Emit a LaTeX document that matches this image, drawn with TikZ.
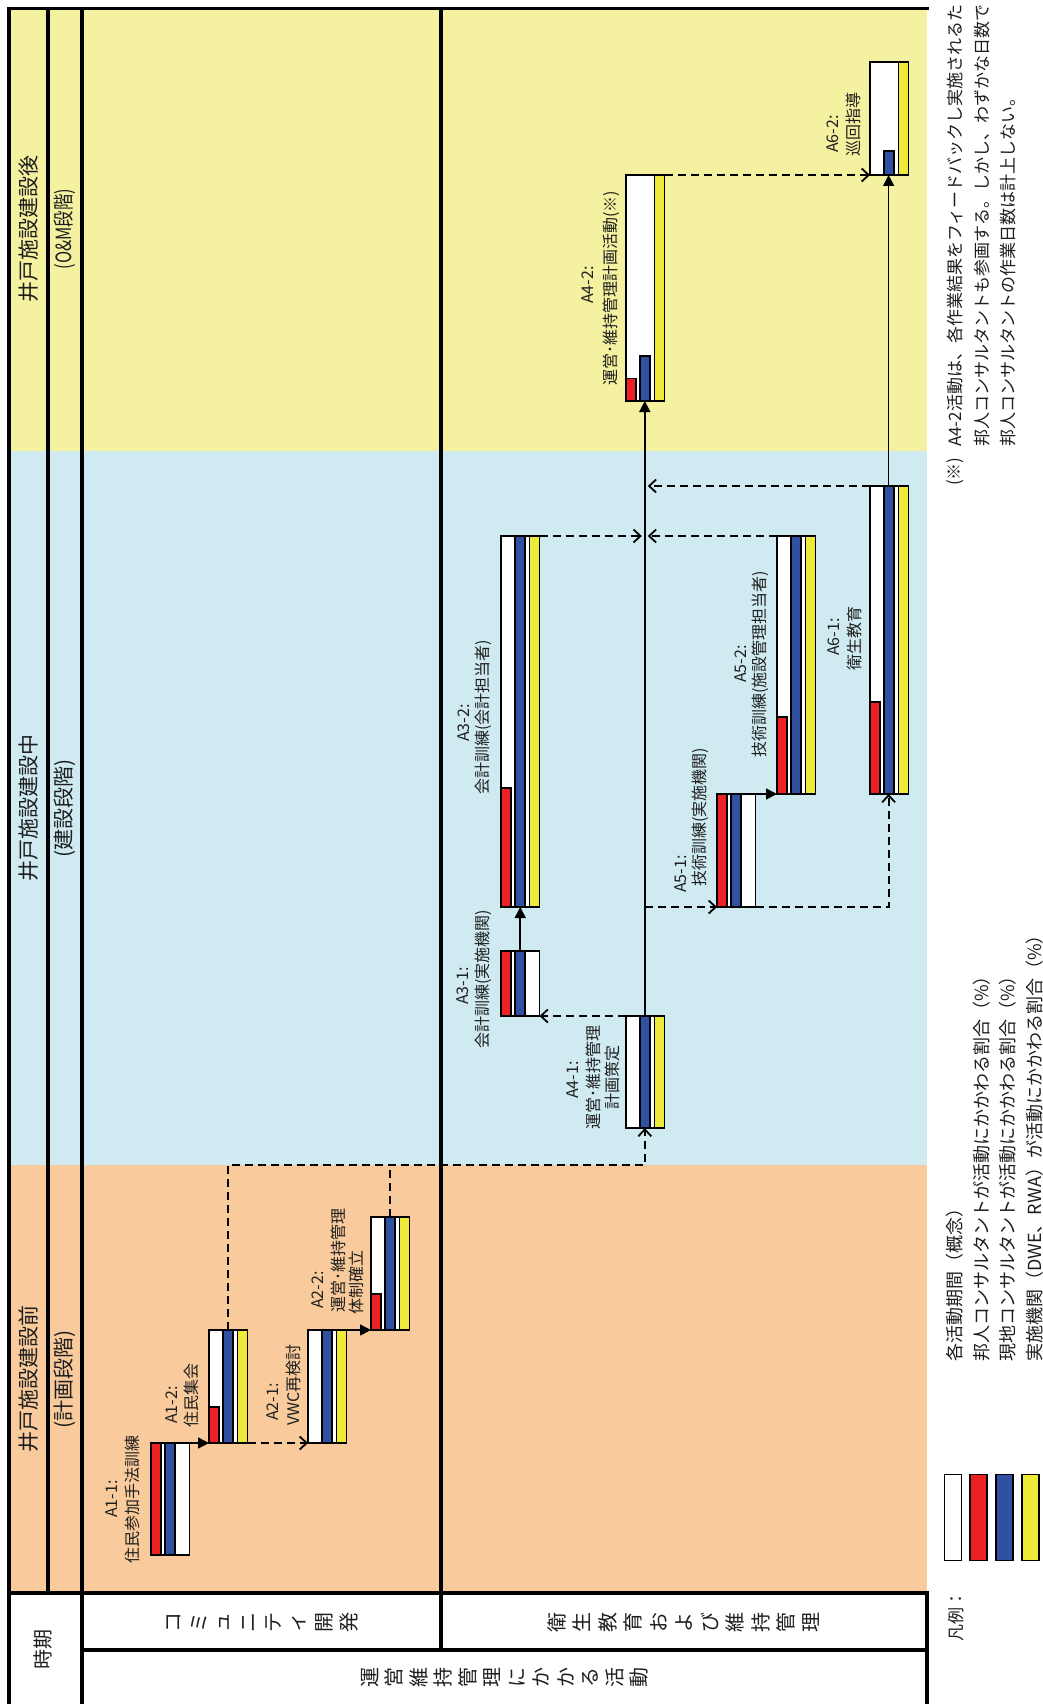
\documentclass[tikz,border=0pt]{standalone}
\usepackage{fontspec}
\setmainfont{Noto Sans CJK JP}
\usetikzlibrary{arrows.meta,calc}
\definecolor{bgor}{RGB}{249,203,156}
\definecolor{bgbl}{RGB}{207,235,241}
\definecolor{bgye}{RGB}{244,241,160}
\definecolor{cred}{RGB}{237,33,36}
\definecolor{cblu}{RGB}{48,80,162}
\definecolor{cyel}{RGB}{238,234,58}
\definecolor{txt}{RGB}{30,30,30}
\newcommand\actv[7]{%
  \pgfmathsetmacro\actL{#4-#3}%
  \node[actbox, minimum height=\actL pt, anchor=north west] (#1) at (#2,#3) {};%
  \ifnum#5>0 \pgfmathsetmacro\actH{#4-(#5/100)*\actL}\filldraw[barline,fill=cred] (#2,#4) rectangle ({#2+10},\actH);\fi
  \ifnum#6>0 \pgfmathsetmacro\actH{#4-(#6/100)*\actL}\filldraw[barline,fill=cblu] ({#2+14},#4) rectangle ({#2+24},\actH);\fi
  \ifnum#7>0 \pgfmathsetmacro\actH{#4-(#7/100)*\actL}\filldraw[barline,fill=cyel] ({#2+28.5},#4) rectangle ({#2+38.5},\actH);\fi
}
\begin{document}
\begin{tikzpicture}[x=1pt,y=-1pt,
  frame/.style={line width=3.4pt,black},
  actbox/.style={draw=black,fill=white,line width=1.8pt,minimum width=38.5pt,inner sep=0pt,outer sep=0pt},
  barline/.style={draw=black,line width=1.8pt},
  solidarr/.style={line width=1.6pt,-{Triangle[length=11pt,width=11pt]}},
  dashln/.style={line width=1.8pt,dash pattern=on 8pt off 5pt},
  dasharr/.style={dashln,-{Straight Barb[length=7pt,width=13pt,line width=1.8pt]}},
  lbl/.style={rotate=90,inner sep=0pt,text=txt,font=\fontsize{16}{19}\selectfont},
  hdr/.style={rotate=90,inner sep=0pt,text=txt,font=\fontsize{21}{24}\selectfont},
  hdrch/.style={rotate=90,inner sep=0pt,text=txt,font=\fontsize{20}{24}\selectfont},
  note/.style={rotate=90,inner sep=0pt,anchor=west,text=txt,font=\fontsize{17}{20}\selectfont},
  legtext/.style={note,font=\fontsize{18}{21}\selectfont},
  swatch/.style={draw=black,line width=1.8pt,minimum width=17pt,minimum height=86pt,inner sep=0pt,outer sep=0pt}
]
\useasboundingbox (0,0) rectangle (1043,1704);
\fill[white] (0,0) rectangle (1043,1704);
% phase backgrounds
\fill[bgye] (9,8.5) rectangle (927,451);
\fill[bgbl] (9,451) rectangle (927,1165);
\fill[bgor] (9,1165) rectangle (927,1593);
% frame lines
\draw[frame] (9,1704) -- (9,8.5) -- (929,8.5);
\draw[frame] (48,8.5) -- (48,1593);
\draw[frame] (82,8.5) -- (82,1704);
\draw[frame] (441,8.5) -- (441,1650);
\draw[frame] (7.3,1593) -- (928.7,1593);
\draw[frame] (82,1650) -- (927,1650);
\draw[frame] (927,1593) -- (927,1704);
% phase headers
\node[hdr] (ph1) at (29,1379) {井戸施設建設前};
\node[hdr] (ph1s) at (65,1379) {(計画段階)};
\node[hdr] (ph2) at (29,808) {井戸施設建設中};
\node[hdr] (ph2s) at (65,808) {(建設段階)};
\node[hdr] (ph3) at (29,229) {井戸施設建設後};
\node[hdr] (ph3s) at (65,229) {\scalebox{0.78}[1]{(O\&M段階)}};
% bottom headers
\node[hdr,font=\fontsize{20}{24}\selectfont] (jiki) at (43,1649) {時期};
\foreach \c [count=\i from 0] in {コ,ミ,ュ,ニ,テ,ィ,開,発}
  \node[hdrch] (ha\i) at ({174+\i*25},1622) {\c};
\foreach \c [count=\i from 0] in {衛,生,教,育,お,よ,び,維,持,管,理}
  \node[hdrch] (hb\i) at ({556.5+\i*25.5},1622) {\c};
\foreach \c [count=\i from 0] in {運,営,維,持,管,理,に,か,か,る,活,動}
  \node[hdrch] (hc\i) at ({369.75+\i*24.5},1677) {\c};
% activities: name, x, ytop, ybottom, red pct, blue pct, yellow pct
\actv{A11}{151}{1443}{1555}{100}{100}{0}
\actv{A12}{209}{1330}{1443}{32}{100}{100}
\actv{A21}{308}{1330}{1443}{0}{100}{100}
\actv{A22}{371}{1217}{1330}{32}{100}{100}
\actv{A41}{626}{1016}{1128}{0}{100}{100}
\actv{A31}{501}{951}{1016}{100}{100}{0}
\actv{A32}{501}{536}{907}{32}{100}{100}
\actv{A51}{717}{794}{907}{100}{100}{0}
\actv{A52}{777}{536}{794}{30}{100}{100}
\actv{A61}{870}{486}{794}{30}{100}{100}
\actv{A42}{626}{175}{401}{10}{20}{100}
\actv{A62}{870}{62}{175}{0}{21}{100}
\coordinate (pb) at (0,1165);
\coordinate (sp) at (644.8,0);
\coordinate (sp6) at (888.6,0);
% connectors
\draw[solidarr] (A11.north east) -- (A12.south west);
\draw[solidarr] (A21.north east) -- (A22.south west);
\draw[solidarr] (A31.north) -- (A32.south);
\draw[solidarr] (A51.north east) -- (A52.south west);
\draw[solidarr] (sp |- A41.north) -- (sp |- A42.south);
\draw[solidarr] (sp6 |- A61.north) -- (sp6 |- A62.south);
\draw[dasharr] (A12.south east) -- (A21.south west);
\draw[dasharr] (A12.north) |- (sp |- pb) -- (sp |- A41.south);
\draw[dashln] (A22.north) -- (A22.north |- pb);
\draw[dasharr] (A41.north west) -- (A31.south east);
\draw[dasharr] (A32.north east) -- ($(sp |- A32.north)+(-3,0)$);
\draw[dasharr] (A52.north west) -- ($(sp |- A52.north)+(3,0)$);
\draw[dasharr] (A61.north west) -- ($(sp |- A61.north)+(3,0)$);
\draw[dasharr] (sp |- A51.south) -- (A51.south west);
\draw[dasharr] (A51.south east) -| (sp6 |- A61.south);
\draw[dasharr] (A42.north east) -- (A62.south west);
% labels
\node[lbl] (tA11a) at (112,1499) {A1-1:};
\node[lbl] (tA11b) at (132,1499) {住民参加手法訓練};
\node[lbl] (tA12a) at (172,1405) {A1-2:};
\node[lbl] (tA12b) at (191,1395) {住民集会};
\node[lbl] (tA21a) at (273,1402) {A2-1:};
\node[lbl] (tA21b) at (293,1385) {VWC再検討};
\node[lbl] (tA22a) at (318,1290) {A2-2:};
\node[lbl] (tA22b) at (338,1260) {運営･維持管理};
\node[lbl] (tA22c) at (356,1282) {体制確立};
\node[lbl] (tA31a) at (463,986) {A3-1:};
\node[lbl] (tA31b) at (483,979) {会計訓練(実施機関)};
\node[lbl] (tA32a) at (464,723) {A3-2:};
\node[lbl] (tA32b) at (483,717) {会計訓練(会計担当者)};
\node[lbl] (tA41a) at (573,1080) {A4-1:};
\node[lbl] (tA41b) at (593,1077) {運営･維持管理};
\node[lbl] (tA41c) at (612,1077) {計画策定};
\node[lbl] (tA42a) at (588,285) {A4-2:};
\node[lbl] (tA42b) at (611,288) {運営･維持管理計画活動(※)};
\node[lbl] (tA51a) at (681,874) {A5-1:};
\node[lbl] (tA51b) at (700,817) {技術訓練(実施機関)};
\node[lbl] (tA52a) at (741,664) {A5-2:};
\node[lbl] (tA52b) at (760,664) {技術訓練(施設管理担当者)};
\node[lbl] (tA61a) at (834,637) {A6-1:};
\node[lbl] (tA61b) at (854,638) {衛生教育};
\node[lbl] (tA62a) at (833,134) {A6-2:};
\node[lbl] (tA62b) at (853,125) {巡回指導};
% legend
\node[note,anchor=center] (lgt) at (956,1616) {凡例：};
\node[swatch,fill=white] (lg1) at (953,1517.5) {};
\node[swatch,fill=cred] (lg2) at (978.5,1517.5) {};
\node[swatch,fill=cblu] (lg3) at (1004.5,1517.5) {};
\node[swatch,fill=cyel] (lg4) at (1030.5,1517.5) {};
\node[legtext] (lgx1) at (955,1362) {各活動期間（概念）};
\node[legtext] (lgx2) at (982,1362) {邦人コンサルタントが活動にかかわる割合（\%）};
\node[legtext] (lgx3) at (1008,1362) {現地コンサルタントが活動にかかわる割合（\%）};
\node[legtext] (lgx4) at (1035,1362) {実施機関（DWE、RWA）が活動にかかわる割合（\%）};
% footnote
\node[note] (fn0) at (955,486) {(※)};
\node[note] (fn1) at (955,447) {A4-2活動は、各作業結果をフィードバックし実施されるた};
\node[note] (fn2) at (982,447) {邦人コンサルタントも参画する。しかし、わずかな日数で};
\node[note] (fn3) at (1008,447) {邦人コンサルタントの作業日数は計上しない。};
\end{tikzpicture}
\end{document}
